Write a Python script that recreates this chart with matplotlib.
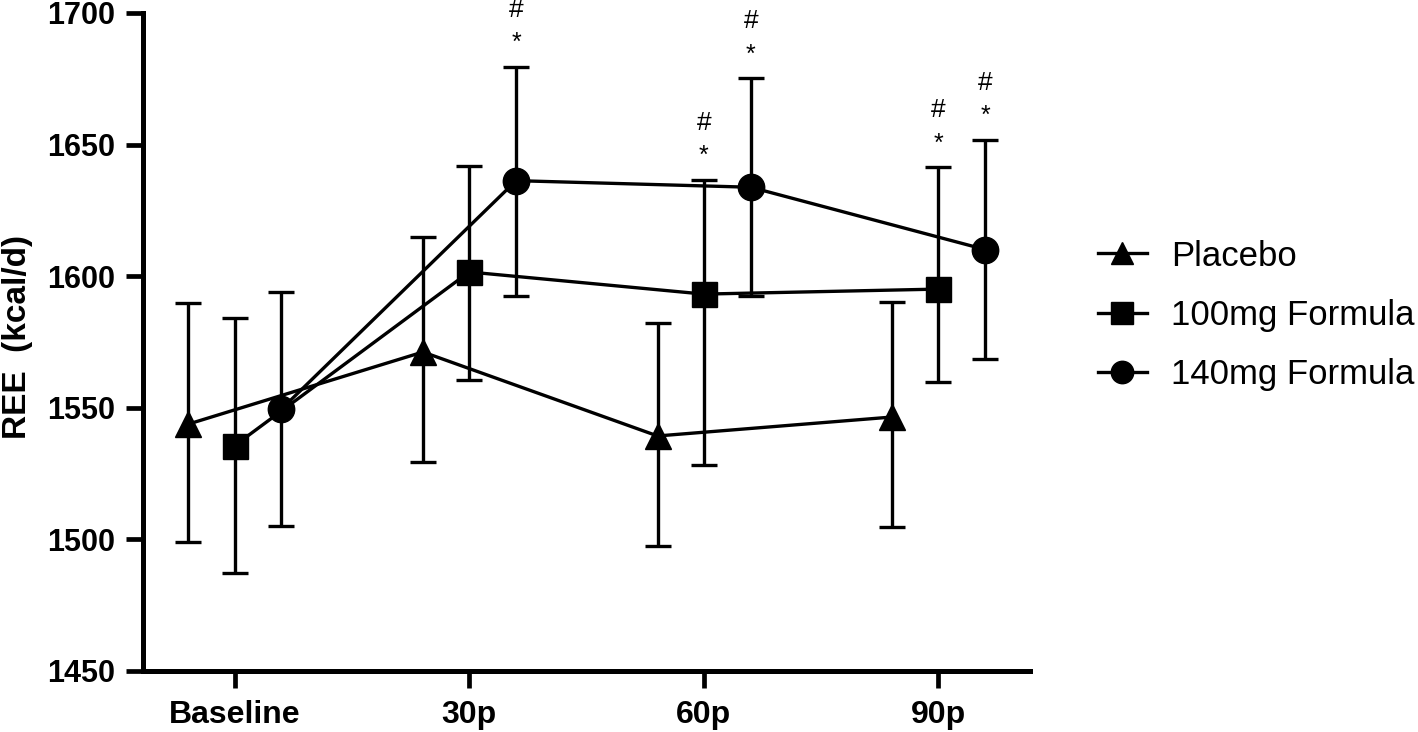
import matplotlib
matplotlib.use("Agg")
import matplotlib.pyplot as plt
import numpy as np

plt.rcParams['font.family'] = ['Liberation Sans', 'DejaVu Sans']

categories = ["Baseline", "30p", "60p", "90p"]
series_names = ["Placebo", "100mg Formula", "140mg Formula"]

placebo_mean = [1543.8, 1571.2, 1539.3, 1546.5]
placebo_low = [1498.9, 1529.3, 1497.6, 1504.7]
placebo_high = [1589.7, 1614.9, 1582.2, 1590.2]

f100_mean = [1535.6, 1601.6, 1593.2, 1595.1]
f100_low = [1487.2, 1560.6, 1528.3, 1559.8]
f100_high = [1584.1, 1642.0, 1636.6, 1641.4]

f140_mean = [1549.5, 1636.3, 1633.8, 1610.1]
f140_low = [1505.2, 1592.5, 1592.5, 1568.5]
f140_high = [1593.9, 1679.6, 1675.3, 1651.9]

# significance marks: (series index, category index)
sig_marks = [(1, 2), (1, 3), (2, 1), (2, 2), (2, 3)]

yticks = [1450, 1500, 1550, 1600, 1650, 1700]

W, H = 1418, 732
fig = plt.figure(figsize=(W / 100, H / 100), dpi=100)
ax = fig.add_axes([143 / W, 61 / H, (1030 - 143) / W, (672 - 14) / H])

x = np.arange(len(categories))
offsets = [-0.197, 0.0, 0.2]
markers = ['^', 's', 'o']
means = [placebo_mean, f100_mean, f140_mean]
lows = [placebo_low, f100_low, f140_low]
highs = [placebo_high, f100_high, f140_high]

handles = []
for i in range(3):
    m = np.array(means[i])
    lo = np.array(lows[i])
    hi = np.array(highs[i])
    xs = x + offsets[i]
    ax.errorbar(xs, m, yerr=[m - lo, hi - m], fmt='none', ecolor='black',
                elinewidth=2.4, capsize=9.5, capthick=2.4, zorder=2)
    ln, = ax.plot(xs, m, color='black', lw=2.4, marker=markers[i],
                  markersize=19 if markers[i] != 's' else 18,
                  markerfacecolor='black', markeredgecolor='black', zorder=3,
                  label=series_names[i])
    handles.append(ln)

for si, ci in sig_marks:
    xs = x[ci] + offsets[si]
    top = highs[si][ci]
    ax.annotate('*', (xs, top), xytext=(0, 17), textcoords='offset points',
                ha='center', va='center', fontsize=18)
    ax.annotate('#', (xs, top), xytext=(0, 41), textcoords='offset points',
                ha='center', va='center', fontsize=19)

ax.set_xlim(-0.39, 3.39)
ax.set_ylim(1450, 1700)
ax.set_yticks(yticks)
ax.set_yticklabels([str(t) for t in yticks], fontsize=22, fontweight='bold')
ax.set_xticks(x)
ax.set_xticklabels(categories, fontsize=23, fontweight='bold')

for s in ['top', 'right']:
    ax.spines[s].set_visible(False)
for s in ['left', 'bottom']:
    ax.spines[s].set_linewidth(3.6)
ax.tick_params(axis='both', length=12, width=3.4, pad=8, colors='black')
ax.tick_params(axis='x', pad=9)

fig.text(18 / W, 1 - 337 / H, 'REE  (kcal/d)', rotation=90, ha='center', va='center',
         fontsize=24, fontweight='bold')

leg = fig.legend(handles=handles, loc='upper left', bbox_to_anchor=(1098 / W, 1 - 239.5 / H),
                 frameon=False, fontsize=25, handlelength=1.4, handletextpad=0.7,
                 labelspacing=0.755, borderpad=0, borderaxespad=0, markerscale=0.85)

fig.savefig('out.png', dpi=100)
